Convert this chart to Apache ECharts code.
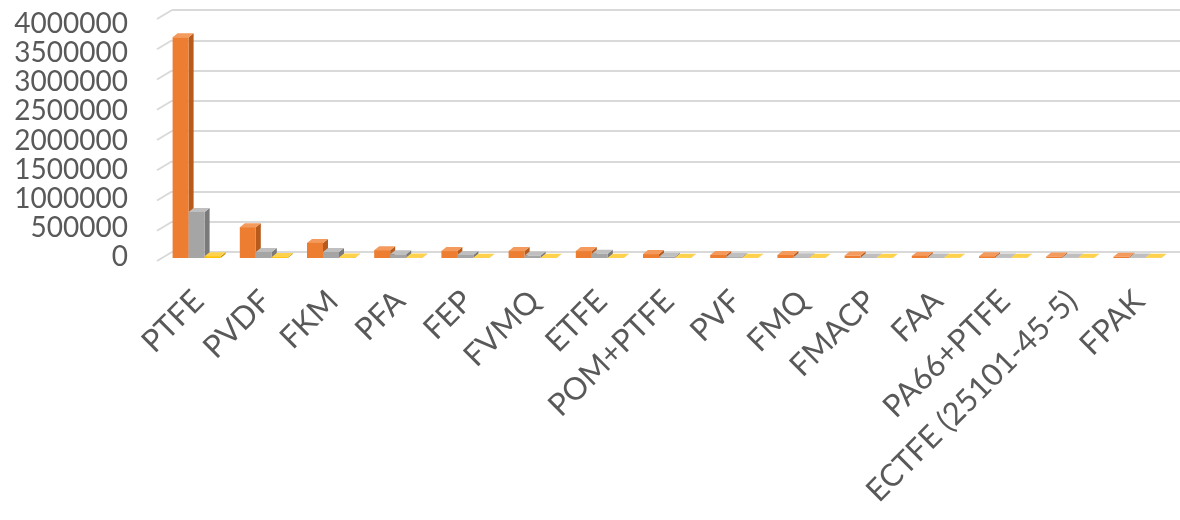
<!DOCTYPE html>
<html>
<head>
<meta charset="utf-8">
<script src="https://cdn.jsdelivr.net/npm/echarts@6/dist/echarts.min.js"></script>
<style>html,body{margin:0;padding:0;background:#fff}#c{width:1180px;height:520px}</style>
</head>
<body>
<div id="c"></div>
<script>
const categories = ['PTFE','PVDF','FKM','PFA','FEP','FVMQ','ETFE','POM+PTFE','PVF','FMQ','FMACP','FAA','PA66+PTFE','ECTFE (25101-45-5)','FPAK'];
const seriesA = [3650000, 510000, 250000, 130000, 115000, 115000, 115000, 65000, 50000, 50000, 40000, 35000, 30000, 25000, 20000];
const seriesB = [760000, 100000, 100000, 60000, 50000, 40000, 70000, 20000, 15000, 12000, 10000, 10000, 8000, 8000, 8000];
const seriesC = [30000, 15000, 10000, 8000, 6000, 6000, 6000, 5000, 5000, 5000, 4000, 4000, 4000, 4000, 4000];
const yTicks = [0, 500000, 1000000, 1500000, 2000000, 2500000, 3000000, 3500000, 4000000];

const chart = echarts.init(document.getElementById('c'));
const palette = [
  {front:'#ED7D31', side:'#B85A1C', top:'#F39A5C'},
  {front:'#A5A5A5', side:'#7A7A7A', top:'#BFBFBF'},
  {front:'#FFC000', side:'#C79500', top:'#FFD24D'}
];
function bar3d(sIdx){
  return function(params, api){
    const ci = api.value(0), v = api.value(1);
    const base = api.coord([ci, 0]);
    const tp = api.coord([ci, v]);
    const bw = 16, dx = 5, dy = 4, fx = -9, fy = 6;
    const x0 = base[0] + fx - 24 + sIdx * bw;
    const yb = base[1] + fy, yt = tp[1] + fy;
    const c = palette[sIdx];
    return {type:'group', children:[
      {type:'polygon', shape:{points:[[x0+bw,yt],[x0+bw+dx,yt-dy],[x0+bw+dx,yb-dy],[x0+bw,yb]]}, style:{fill:c.side}},
      {type:'polygon', shape:{points:[[x0,yt],[x0+dx,yt-dy],[x0+bw+dx,yt-dy],[x0+bw,yt]]}, style:{fill:c.top}},
      {type:'rect', shape:{x:x0, y:yt, width:bw, height:Math.max(yb-yt,0)}, style:{fill:c.front}}
    ]};
  };
}
function mk(arr){ return arr.map((v,i)=>[i,v]); }
const option = {
  animation:false,
  backgroundColor:'#fff',
  grid:[
    {left:172, right:0, top:10, bottom:268, containLabel:false},
    {left:157, right:0, top:24, bottom:263, containLabel:false}
  ],
  xAxis:[
    {
      type:'category', data:categories, gridIndex:0,
      axisLine:{show:false}, axisTick:{show:false},
      axisLabel:{interval:0, rotate:45, margin:37, color:'#595959', fontFamily:'Lato', fontSize:31, padding:[0,10,0,0]}
    },
    {type:'category', data:categories, gridIndex:1, show:false}
  ],
  yAxis:[
    {
      type:'value', gridIndex:0, min:0, max:4000000, interval:500000,
      axisLine:{show:false}, axisTick:{show:false},
      splitLine:{lineStyle:{color:'#d9d9d9', width:2}},
      axisLabel:{show:false}
    },
    {
      type:'value', gridIndex:1, min:0, max:4000000, interval:500000,
      axisLine:{show:false}, axisTick:{show:false}, splitLine:{show:false},
      axisLabel:{margin:29, color:'#595959', fontFamily:'Lato', fontSize:28, formatter:function(v){return String(v);}}
    }
  ],
  series:[
    {type:'custom', clip:false, data:yTicks.map(t=>[0,t]), encode:{x:0,y:1}, silent:true,
     renderItem:function(params, api){
       const y = api.coord([0, api.value(1)])[1];
       const x = params.coordSys.x;
       return {type:'line', shape:{x1:x-15, y1:y+9, x2:x, y2:y}, style:{stroke:'#d9d9d9', lineWidth:2}};
     }},
    {type:'custom', name:'A', clip:false, data:mk(seriesA), encode:{x:0,y:1}, renderItem:bar3d(0)},
    {type:'custom', name:'B', clip:false, data:mk(seriesB), encode:{x:0,y:1}, renderItem:bar3d(1)},
    {type:'custom', name:'C', clip:false, data:mk(seriesC), encode:{x:0,y:1}, renderItem:bar3d(2)}
  ]
};
chart.setOption(option);
</script>
</body>
</html>
